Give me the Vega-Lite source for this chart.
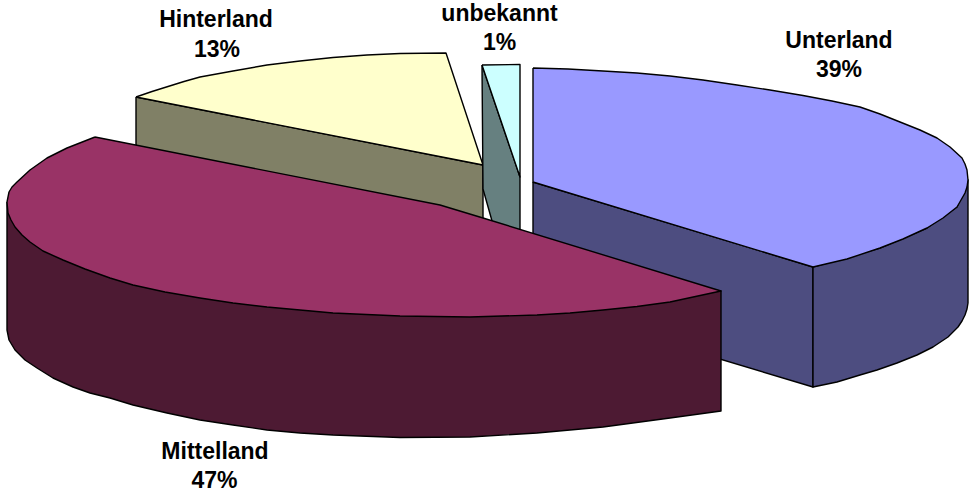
{
  "$schema": "https://vega.github.io/schema/vega-lite/v6.json",
  "width": 971,
  "height": 495,
  "autosize": {"type": "fit", "contains": "padding"},
  "padding": 0,
  "background": "white",
  "config": {"view": {"stroke": null}},
  "datasets": {
    "faces": [
      {"face": "Hinterland wall", "k": 1, "x": 136, "y": 97},
      {"face": "Hinterland wall", "k": 2, "x": 483, "y": 165},
      {"face": "Hinterland wall", "k": 3, "x": 483, "y": 225},
      {"face": "Hinterland wall", "k": 4, "x": 136, "y": 150},
      {"face": "Hinterland wall", "k": 5, "x": 136, "y": 97},

      {"face": "Hinterland top", "k": 1, "x": 136, "y": 97},
      {"face": "Hinterland top", "k": 2, "x": 152, "y": 91.5},
      {"face": "Hinterland top", "k": 3, "x": 168, "y": 86.5},
      {"face": "Hinterland top", "k": 4, "x": 184, "y": 81.5},
      {"face": "Hinterland top", "k": 5, "x": 200, "y": 77},
      {"face": "Hinterland top", "k": 6, "x": 233, "y": 71},
      {"face": "Hinterland top", "k": 7, "x": 267, "y": 65},
      {"face": "Hinterland top", "k": 8, "x": 300, "y": 61},
      {"face": "Hinterland top", "k": 9, "x": 333, "y": 57.5},
      {"face": "Hinterland top", "k": 10, "x": 367, "y": 55},
      {"face": "Hinterland top", "k": 11, "x": 400, "y": 53.5},
      {"face": "Hinterland top", "k": 12, "x": 446, "y": 53},
      {"face": "Hinterland top", "k": 13, "x": 483, "y": 165},
      {"face": "Hinterland top", "k": 14, "x": 136, "y": 97},

      {"face": "unbekannt wall", "k": 1, "x": 482, "y": 65},
      {"face": "unbekannt wall", "k": 2, "x": 520, "y": 177},
      {"face": "unbekannt wall", "k": 3, "x": 520, "y": 236},
      {"face": "unbekannt wall", "k": 4, "x": 494, "y": 228},
      {"face": "unbekannt wall", "k": 5, "x": 483, "y": 189},
      {"face": "unbekannt wall", "k": 6, "x": 482, "y": 65},

      {"face": "unbekannt top", "k": 1, "x": 482, "y": 65},
      {"face": "unbekannt top", "k": 2, "x": 520, "y": 64.5},
      {"face": "unbekannt top", "k": 3, "x": 520, "y": 177},
      {"face": "unbekannt top", "k": 4, "x": 482, "y": 65},

      {"face": "Unterland cut", "k": 1, "x": 533, "y": 182},
      {"face": "Unterland cut", "k": 2, "x": 813, "y": 267},
      {"face": "Unterland cut", "k": 3, "x": 813, "y": 387},
      {"face": "Unterland cut", "k": 4, "x": 533, "y": 303},
      {"face": "Unterland cut", "k": 5, "x": 533, "y": 182},

      {"face": "Unterland rim", "k": 1, "x": 813, "y": 267},
      {"face": "Unterland rim", "k": 2, "x": 880, "y": 248},
      {"face": "Unterland rim", "k": 3, "x": 927, "y": 228},
      {"face": "Unterland rim", "k": 4, "x": 957, "y": 207},
      {"face": "Unterland rim", "k": 5, "x": 968, "y": 180},
      {"face": "Unterland rim", "k": 6, "x": 968, "y": 303},
      {"face": "Unterland rim", "k": 7, "x": 967, "y": 309},
      {"face": "Unterland rim", "k": 8, "x": 965, "y": 315},
      {"face": "Unterland rim", "k": 9, "x": 962, "y": 321},
      {"face": "Unterland rim", "k": 10, "x": 958, "y": 327},
      {"face": "Unterland rim", "k": 11, "x": 948, "y": 337},
      {"face": "Unterland rim", "k": 12, "x": 933, "y": 347},
      {"face": "Unterland rim", "k": 13, "x": 917, "y": 355},
      {"face": "Unterland rim", "k": 14, "x": 897, "y": 363},
      {"face": "Unterland rim", "k": 15, "x": 877, "y": 370},
      {"face": "Unterland rim", "k": 16, "x": 860, "y": 375},
      {"face": "Unterland rim", "k": 17, "x": 837, "y": 382},
      {"face": "Unterland rim", "k": 18, "x": 813, "y": 387},
      {"face": "Unterland rim", "k": 19, "x": 813, "y": 267},

      {"face": "Unterland top", "k": 1, "x": 533, "y": 68},
      {"face": "Unterland top", "k": 2, "x": 568, "y": 69},
      {"face": "Unterland top", "k": 3, "x": 603, "y": 71},
      {"face": "Unterland top", "k": 4, "x": 637, "y": 73},
      {"face": "Unterland top", "k": 5, "x": 670, "y": 76},
      {"face": "Unterland top", "k": 6, "x": 703, "y": 80},
      {"face": "Unterland top", "k": 7, "x": 737, "y": 85},
      {"face": "Unterland top", "k": 8, "x": 770, "y": 90},
      {"face": "Unterland top", "k": 9, "x": 803, "y": 95.5},
      {"face": "Unterland top", "k": 10, "x": 832, "y": 101},
      {"face": "Unterland top", "k": 11, "x": 860, "y": 107},
      {"face": "Unterland top", "k": 12, "x": 880, "y": 114},
      {"face": "Unterland top", "k": 13, "x": 900, "y": 122},
      {"face": "Unterland top", "k": 14, "x": 920, "y": 130},
      {"face": "Unterland top", "k": 15, "x": 937, "y": 138},
      {"face": "Unterland top", "k": 16, "x": 950, "y": 147},
      {"face": "Unterland top", "k": 17, "x": 962, "y": 158},
      {"face": "Unterland top", "k": 18, "x": 965, "y": 164},
      {"face": "Unterland top", "k": 19, "x": 967, "y": 170},
      {"face": "Unterland top", "k": 20, "x": 968, "y": 180},
      {"face": "Unterland top", "k": 21, "x": 967, "y": 187},
      {"face": "Unterland top", "k": 22, "x": 965, "y": 193},
      {"face": "Unterland top", "k": 23, "x": 961, "y": 200},
      {"face": "Unterland top", "k": 24, "x": 957, "y": 207},
      {"face": "Unterland top", "k": 25, "x": 943, "y": 218},
      {"face": "Unterland top", "k": 26, "x": 927, "y": 228},
      {"face": "Unterland top", "k": 27, "x": 903, "y": 239},
      {"face": "Unterland top", "k": 28, "x": 880, "y": 248},
      {"face": "Unterland top", "k": 29, "x": 847, "y": 259},
      {"face": "Unterland top", "k": 30, "x": 813, "y": 267},
      {"face": "Unterland top", "k": 31, "x": 533, "y": 182},
      {"face": "Unterland top", "k": 32, "x": 533, "y": 68},

      {"face": "Mittelland rim", "k": 1, "x": 7, "y": 202},
      {"face": "Mittelland rim", "k": 2, "x": 7, "y": 330},
      {"face": "Mittelland rim", "k": 3, "x": 8, "y": 335},
      {"face": "Mittelland rim", "k": 4, "x": 9, "y": 340},
      {"face": "Mittelland rim", "k": 5, "x": 15, "y": 350},
      {"face": "Mittelland rim", "k": 6, "x": 25, "y": 360},
      {"face": "Mittelland rim", "k": 7, "x": 37, "y": 368},
      {"face": "Mittelland rim", "k": 8, "x": 53, "y": 378},
      {"face": "Mittelland rim", "k": 9, "x": 73, "y": 387},
      {"face": "Mittelland rim", "k": 10, "x": 90, "y": 393},
      {"face": "Mittelland rim", "k": 11, "x": 110, "y": 398},
      {"face": "Mittelland rim", "k": 12, "x": 133, "y": 405},
      {"face": "Mittelland rim", "k": 13, "x": 167, "y": 413},
      {"face": "Mittelland rim", "k": 14, "x": 200, "y": 420},
      {"face": "Mittelland rim", "k": 15, "x": 233, "y": 425},
      {"face": "Mittelland rim", "k": 16, "x": 267, "y": 430},
      {"face": "Mittelland rim", "k": 17, "x": 300, "y": 433},
      {"face": "Mittelland rim", "k": 18, "x": 333, "y": 435},
      {"face": "Mittelland rim", "k": 19, "x": 400, "y": 437.5},
      {"face": "Mittelland rim", "k": 20, "x": 470, "y": 437},
      {"face": "Mittelland rim", "k": 21, "x": 537, "y": 433},
      {"face": "Mittelland rim", "k": 22, "x": 603, "y": 427},
      {"face": "Mittelland rim", "k": 23, "x": 670, "y": 418},
      {"face": "Mittelland rim", "k": 24, "x": 721, "y": 411},
      {"face": "Mittelland rim", "k": 25, "x": 721, "y": 291},
      {"face": "Mittelland rim", "k": 26, "x": 7, "y": 202},

      {"face": "Mittelland top", "k": 1, "x": 95, "y": 137},
      {"face": "Mittelland top", "k": 2, "x": 440, "y": 205},
      {"face": "Mittelland top", "k": 3, "x": 483, "y": 218},
      {"face": "Mittelland top", "k": 4, "x": 721, "y": 291},
      {"face": "Mittelland top", "k": 5, "x": 670, "y": 302},
      {"face": "Mittelland top", "k": 6, "x": 637, "y": 306.5},
      {"face": "Mittelland top", "k": 7, "x": 603, "y": 310},
      {"face": "Mittelland top", "k": 8, "x": 570, "y": 313},
      {"face": "Mittelland top", "k": 9, "x": 537, "y": 315},
      {"face": "Mittelland top", "k": 10, "x": 470, "y": 317},
      {"face": "Mittelland top", "k": 11, "x": 400, "y": 316},
      {"face": "Mittelland top", "k": 12, "x": 333, "y": 313},
      {"face": "Mittelland top", "k": 13, "x": 300, "y": 310},
      {"face": "Mittelland top", "k": 14, "x": 267, "y": 307},
      {"face": "Mittelland top", "k": 15, "x": 233, "y": 303},
      {"face": "Mittelland top", "k": 16, "x": 200, "y": 298},
      {"face": "Mittelland top", "k": 17, "x": 165, "y": 292},
      {"face": "Mittelland top", "k": 18, "x": 133, "y": 285},
      {"face": "Mittelland top", "k": 19, "x": 110, "y": 278},
      {"face": "Mittelland top", "k": 20, "x": 85, "y": 269},
      {"face": "Mittelland top", "k": 21, "x": 63, "y": 260},
      {"face": "Mittelland top", "k": 22, "x": 43, "y": 251},
      {"face": "Mittelland top", "k": 23, "x": 30, "y": 242},
      {"face": "Mittelland top", "k": 24, "x": 22, "y": 235},
      {"face": "Mittelland top", "k": 25, "x": 15, "y": 227},
      {"face": "Mittelland top", "k": 26, "x": 11, "y": 220},
      {"face": "Mittelland top", "k": 27, "x": 8, "y": 213},
      {"face": "Mittelland top", "k": 28, "x": 7, "y": 202},
      {"face": "Mittelland top", "k": 29, "x": 9, "y": 192},
      {"face": "Mittelland top", "k": 30, "x": 12, "y": 187},
      {"face": "Mittelland top", "k": 31, "x": 17, "y": 182},
      {"face": "Mittelland top", "k": 32, "x": 30, "y": 170},
      {"face": "Mittelland top", "k": 33, "x": 47, "y": 158},
      {"face": "Mittelland top", "k": 34, "x": 67, "y": 148},
      {"face": "Mittelland top", "k": 35, "x": 95, "y": 137}
    ],
    "labels": [
      {"text": "Hinterland", "x": 216, "y": 27},
      {"text": "13%", "x": 217, "y": 57},
      {"text": "unbekannt", "x": 499.5, "y": 21},
      {"text": "1%", "x": 499.5, "y": 50},
      {"text": "Unterland", "x": 839, "y": 48},
      {"text": "39%", "x": 839, "y": 77},
      {"text": "Mittelland", "x": 215, "y": 459},
      {"text": "47%", "x": 214.5, "y": 488}
    ]
  },
  "layer": [
    {
      "data": {"name": "faces"},
      "mark": {"type": "line", "stroke": "black", "strokeWidth": 1.4, "strokeJoin": "round", "clip": true},
      "encoding": {
        "x": {"field": "x", "type": "quantitative", "scale": {"domain": [0, 971]}, "axis": null},
        "y": {"field": "y", "type": "quantitative", "scale": {"domain": [495, 0]}, "axis": null},
        "order": {"field": "k", "type": "quantitative"},
        "detail": {"field": "face"},
        "fill": {
          "field": "face",
          "type": "nominal",
          "legend": null,
          "scale": {
            "domain": ["Hinterland wall", "Hinterland top", "unbekannt wall", "unbekannt top", "Unterland cut", "Unterland rim", "Unterland top", "Mittelland rim", "Mittelland top"],
            "range": ["#808066", "#FFFFCC", "#668080", "#CCFFFF", "#4D4D80", "#4D4D80", "#9999FF", "#4D1A33", "#993366"]
          }
        }
      }
    },
    {
      "data": {"name": "labels"},
      "mark": {"type": "text", "font": "Liberation Sans", "fontWeight": "bold", "fontSize": 23, "baseline": "alphabetic", "align": "center", "color": "black"},
      "encoding": {
        "x": {"field": "x", "type": "quantitative", "scale": {"domain": [0, 971]}, "axis": null},
        "y": {"field": "y", "type": "quantitative", "scale": {"domain": [495, 0]}, "axis": null},
        "text": {"field": "text"}
      }
    }
  ]
}
